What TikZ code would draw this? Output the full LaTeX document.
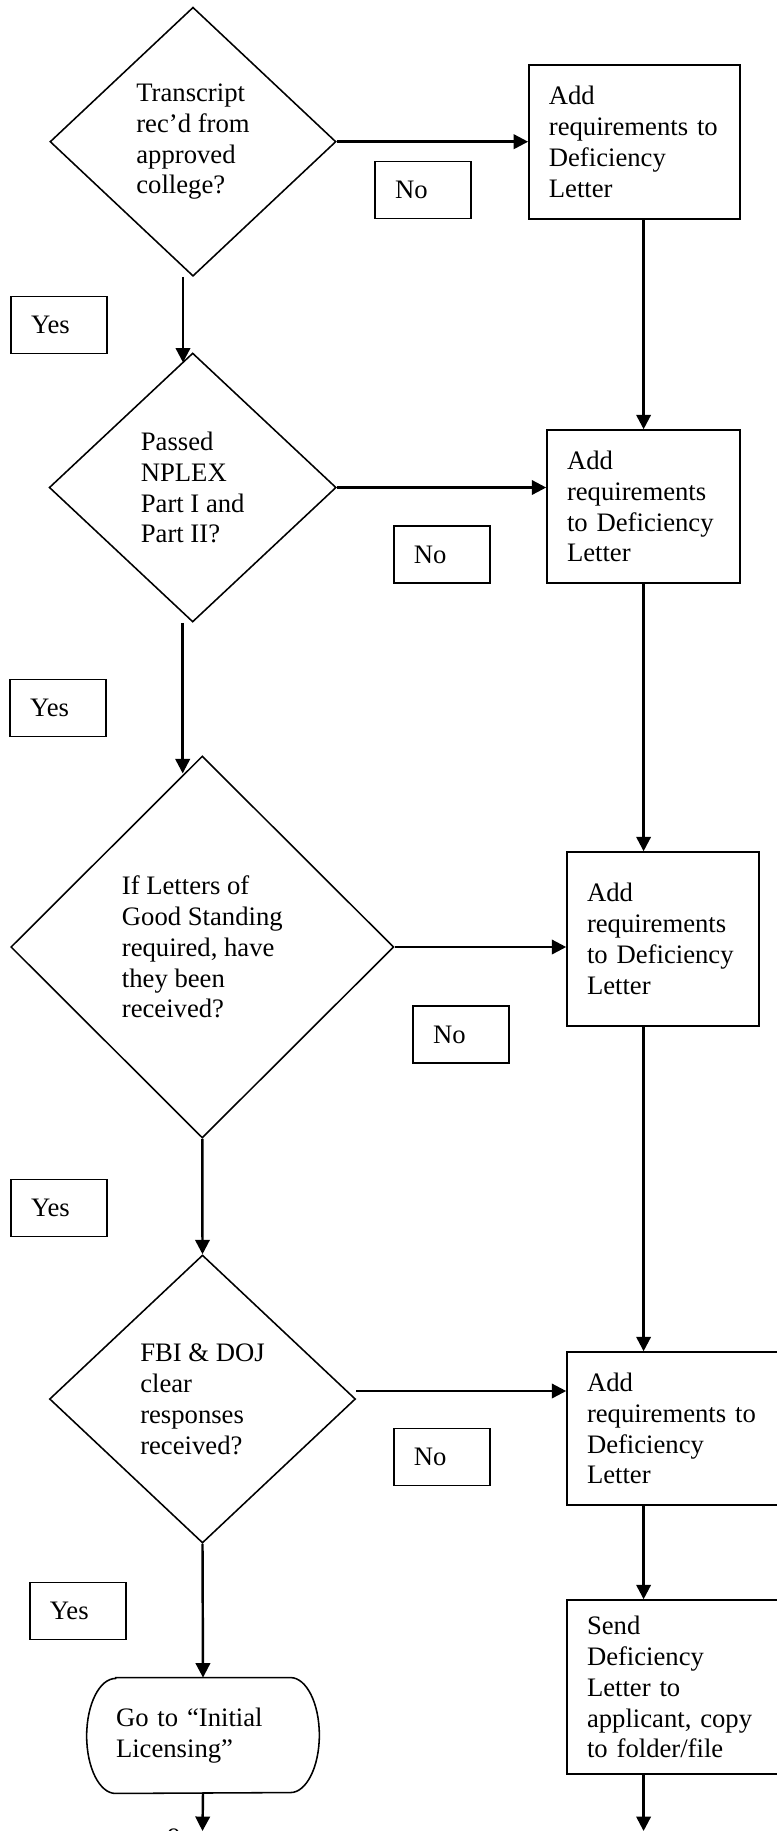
\documentclass[tikz,border=0pt]{standalone}
\usepackage{fontspec}
\setmainfont{Liberation Serif}
\usetikzlibrary{shapes.geometric,arrows.meta}

\begin{document}
\begin{tikzpicture}[x=0.45pt, y=-0.45pt,
    every node/.style={font=\fontsize{12}{13.9}\selectfont},
    frage/.style={draw, diamond, inner sep=0pt, align=left, line width=0.7pt},
    kasten/.style={draw, rectangle, align=left, inner xsep=9pt, inner ysep=0pt, line width=0.7pt},
    antwort/.style={draw, rectangle, align=left, text width=25.2pt, inner xsep=9pt, minimum height=25.65pt, line width=0.7pt},
    ziel/.style={rectangle, align=left, inner xsep=0pt, inner ysep=0pt},
    pfeil/.style={line width=1.1pt, -{Triangle[length=6.5pt,width=6.5pt]}}]
    \useasboundingbox (0,0) rectangle (777,1831);
    \clip (0,0) rectangle (777,1831);

    % Fragen
    \node[frage, minimum width=128.7pt, minimum height=121.05pt] (d1) at (193,141.7)
        {Transcript\\rec’d from\\approved\\college?};
    \node[frage, minimum width=129.15pt, minimum height=121.05pt] (d2) at (192.7,487.5)
        {Passed\\NPLEX\\Part I and\\Part II?};
    \node[frage, minimum width=172.35pt, minimum height=171.9pt] (d3) at (202.3,947)
        {If Letters of\\Good Standing\\required, have\\they been\\received?};
    \node[frage, minimum width=137.7pt, minimum height=129.6pt] (d4) at (202.5,1399)
        {FBI \& DOJ\\clear\\responses\\received?};

    % Kaesten rechts
    \node[kasten, text width=76.95pt, minimum height=69.3pt] (b1) at (634.4,142)
        {Add\\requirements to\\Deficiency\\Letter};
    \node[kasten, text width=68.85pt, minimum height=68.85pt] (b2) at (643.5,506.5)
        {Add\\requirements\\to Deficiency\\Letter};
    \node[kasten, text width=68.4pt, minimum height=78.3pt] (b3) at (663,939)
        {Add\\requirements\\to Deficiency\\Letter};
    \node[kasten, text width=86.85pt, minimum height=68.85pt] (b4) at (683.5,1428.5)
        {Add\\requirements to\\Deficiency\\Letter};
    \node[kasten, text width=86.85pt, minimum height=78.3pt] (b5) at (683.5,1687)
        {Send\\Deficiency\\Letter to\\applicant, copy\\to folder/file};

    % Ende
    \node[ziel, text width=78.3pt, minimum height=51.75pt] (t) at (203,1735.5)
        {Go to “Initial\\Licensing”};
    \draw[line width=0.7pt] (t.north west) -- (t.north east)
        arc[start angle=90, end angle=-90, x radius=13pt, y radius=25.875pt]
        -- (t.south west)
        arc[start angle=270, end angle=90, x radius=13pt, y radius=25.875pt] -- cycle;

    % Antworten
    \node[antwort] (no1) at (423,190) {No};
    \node[antwort] (no2) at (441.8,554.5) {No};
    \node[antwort] (no3) at (461,1034.5) {No};
    \node[antwort] (no4) at (441.8,1457) {No};
    \node[antwort] (yes1) at (59,325) {Yes};
    \node[antwort] (yes2) at (58.2,708) {Yes};
    \node[antwort] (yes3) at (59,1208) {Yes};
    \node[antwort] (yes4) at (77.9,1611) {Yes};

    % Seitenzahl
    \node[anchor=base west, inner sep=0pt] (seite) at (167,1846) {9};

    % Hilfspunkte
    \coordinate (rechts) at (643.6,0);
    \coordinate (unten) at (202.5,1831);
    \coordinate (a1) at ([xshift=-4.5pt]d1.south);
    \coordinate (a2) at ([xshift=-4.5pt]d2.south);
    \coordinate (d4r) at ([yshift=3.6pt]d4.east);

    % Pfeile links
    \draw[pfeil] (a1) -- (a1 |- d2.95);
    \draw[pfeil] (a2) -- (a2 |- d3.96);
    \draw[pfeil] (d3.south) -- (d4.north);
    \draw[pfeil] (d4.south) -- (t.north);
    \draw[pfeil] (t.south) -- (unten);

    % Pfeile nach rechts (No)
    \draw[pfeil] (d1.east) -- (d1.east -| b1.west);
    \draw[pfeil] (d2.east) -- (d2.east -| b2.west);
    \draw[pfeil] (d3.east) -- (d3.east -| b3.west);
    \draw[pfeil] (d4r) -- (d4r -| b4.west);

    % Pfeile rechts
    \draw[pfeil] (b1.south -| rechts) -- (b2.north -| rechts);
    \draw[pfeil] (b2.south -| rechts) -- (b3.north -| rechts);
    \draw[pfeil] (b3.south -| rechts) -- (b4.north -| rechts);
    \draw[pfeil] (b4.south -| rechts) -- (b5.north -| rechts);
    \draw[pfeil] (b5.south -| rechts) -- (rechts |- unten);
\end{tikzpicture}
\end{document}
